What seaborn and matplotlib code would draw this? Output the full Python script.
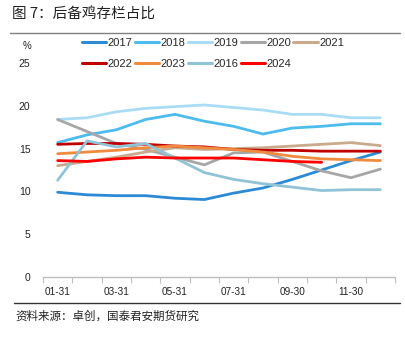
import matplotlib
matplotlib.use("Agg")
import matplotlib.pyplot as plt
import seaborn as sns
import pandas as pd
import numpy as np
from matplotlib.lines import Line2D

sns.set_theme(style="white")
plt.rcParams['font.family'] = ['Liberation Sans', 'Noto Sans CJK SC', 'DejaVu Sans']

months = ["01-31", "02-28", "03-31", "04-30", "05-31", "06-30",
          "07-31", "08-31", "09-30", "10-31", "11-30", "12-31"]
shown_labels = ["01-31", "03-31", "05-31", "07-31", "09-30", "11-30"]

y2017 = [9.9, 9.6, 9.5, 9.5, 9.2, 9.05, 9.8, 10.4, 11.4, 12.5, 13.6, 14.6]
y2018 = [15.7, 16.6, 17.2, 18.4, 19.0, 18.2, 17.6, 16.7, 17.4, 17.6, 17.9, 17.9]
y2019 = [18.4, 18.6, 19.3, 19.7, 19.9, 20.1, 19.8, 19.5, 19.0, 19.0, 18.6, 18.6]
y2020 = [18.4, 17.0, 15.6, 14.9, 14.0, 13.1, 14.5, 14.6, 13.5, 12.4, 11.6, 12.6]
y2021 = [13.0, 13.5, 14.0, 14.6, 15.1, 14.9, 15.0, 15.1, 15.3, 15.5, 15.7, 15.35]
y2022 = [15.5, 15.6, 15.6, 15.5, 15.3, 15.2, 14.9, 14.8, 14.8, 14.7, 14.7, 14.7]
y2023 = [14.4, 14.6, 14.8, 15.1, 15.3, 15.1, 14.9, 14.6, 14.1, 13.8, 13.7, 13.6]
y2016 = [11.3, 15.9, 15.2, 15.6, 13.9, 12.2, 11.4, 10.9, 10.5, 10.1, 10.2, 10.2]
y2024 = [13.6, 13.5, 13.8, 14.0, 13.9, 13.9, 13.9, 13.7, 13.5, 13.4]

series = {"2017": y2017, "2018": y2018, "2019": y2019, "2020": y2020,
          "2021": y2021, "2022": y2022, "2023": y2023, "2016": y2016,
          "2024": y2024}
palette = {"2017": "#2b8ad6", "2018": "#4cbbee", "2019": "#aadcf5",
           "2020": "#a6a6a6", "2021": "#c9aa8d", "2022": "#c00000",
           "2023": "#f08a3c", "2016": "#90c3d6", "2024": "#ff0000"}
order = list(series.keys())

rows = []
for k, vals in series.items():
    for i, v in enumerate(vals):
        rows.append({"year": k, "idx": i, "value": v})
df = pd.DataFrame(rows)

fig = plt.figure(figsize=(4.06, 3.53), dpi=100)
ax = fig.add_axes([43/406, 1-277/353, (395-43)/406, (277-63)/353])

sns.lineplot(data=df, x="idx", y="value", hue="year", hue_order=order,
             palette=palette, linewidth=2.0, ax=ax, legend=False, sort=True)

ax.set_xlim(-0.5, 11.5)
ax.set_ylim(0, 25)
ax.set_yticks([0, 5, 10, 15, 20, 25])
ax.set_xticks(np.arange(-0.5, 12, 1))
ax.set_xticklabels([])
ax.set_xticks([months.index(m) for m in shown_labels], minor=True)
ax.set_xticklabels(shown_labels, minor=True)
ax.tick_params(axis='x', which='major', length=4, width=0.8, color="#bfbfbf", direction='out', bottom=True)
ax.tick_params(axis='x', which='minor', length=0, labelsize=7.2, pad=7, colors="#222222")
ax.tick_params(axis='y', length=0, labelsize=7.5, pad=9, colors="#222222")
ax.set_xlabel("")
ax.set_ylabel("")
for s in ["top", "right", "left"]:
    ax.spines[s].set_visible(False)
ax.spines["bottom"].set_color("#bfbfbf")
ax.spines["bottom"].set_linewidth(1.0)
ax.grid(False)

fig.text(27/406, 1-46/353, "%", fontsize=7, ha="center", va="center", color="#222222")

# legend laid out row by row: row 1 = 2017..2021, row 2 = 2022, 2023, 2016, 2024
row1 = ["2017", "2018", "2019", "2020", "2021"]
row2 = ["2022", "2023", "2016", "2024"]
leg_order = []
for i in range(5):
    leg_order.append(row1[i])
    if i < len(row2):
        leg_order.append(row2[i])
handles = [Line2D([0], [0], color=palette[k], lw=2.2) for k in leg_order]
leg = fig.legend(handles, leg_order, loc="upper left", bbox_to_anchor=(82/406, 1-38/353),
                 ncol=5, frameon=False, fontsize=8, handlelength=2.2,
                 handletextpad=0.12, columnspacing=0.2, labelspacing=0.95,
                 borderaxespad=0, borderpad=0)

fig.text(12/406, 1-14/353, "图 7：后备鸡存栏占比", fontsize=10.5, ha="left", va="center",
         family=['Noto Sans CJK SC', 'DejaVu Sans'], color="#222222")
fig.add_artist(Line2D([10/406, 400/406], [1-33/353, 1-33/353], color="#808080", lw=1.0))
fig.add_artist(Line2D([14/406, 400/406], [1-303/353, 1-303/353], color="#333333", lw=1.0))
fig.text(15/406, 1-316/353, "资料来源：卓创，国泰君安期货研究", fontsize=8.3, ha="left", va="center",
         family=['Noto Sans CJK SC', 'DejaVu Sans'], color="#222222")

fig.savefig("out.png", dpi=100)
